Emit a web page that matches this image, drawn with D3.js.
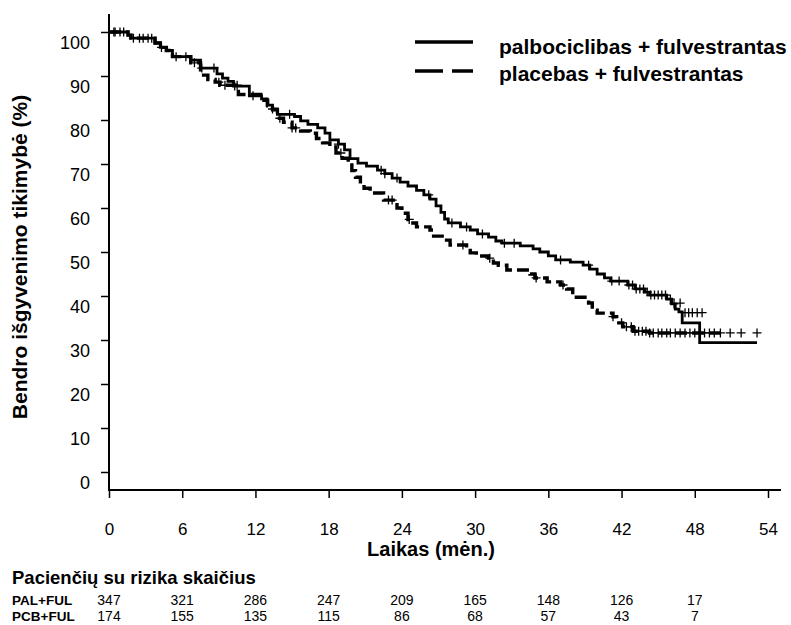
<html>
<meta charset="utf-8">
<style>
  body { margin: 0; background: #fff; }
  text { font-family: "Liberation Sans", Arial, sans-serif; fill: #000; }
</style>
<body>
<script src="https://d3js.org/d3.v7.min.js"></script>
<script>
// x ticks (months) and numbers at risk
var months = [0, 6, 12, 18, 24, 30, 36, 42, 48, 54];
var palRisk = [347, 321, 286, 247, 209, 165, 148, 126, 17];
var pcbRisk = [174, 155, 135, 115, 86, 68, 57, 43, 7];
var yTicks = [0, 10, 20, 30, 40, 50, 60, 70, 80, 90, 100];

// palbociclibas + fulvestrantas (solid): step times and survival %
var palT = [0, 1.56, 1.8, 3.77, 4.2, 4.7, 5.2, 6.7, 7.5, 8.85, 9.3, 9.75, 10.2, 11.5, 12.5, 12.95, 13.4, 13.8, 15.2, 15.7,
  16.3, 17.1, 17.7, 18.1, 18.8, 19.3, 19.75, 20.4, 21.1, 22.0, 22.6, 23.2, 23.85, 24.5, 25.2, 25.8, 26.3, 26.8, 27.2, 27.5,
  27.8, 28.8, 29.6, 30.2, 31.1, 31.7, 32.2, 33.7, 34.75, 35.3, 36.0, 36.6, 37.8, 38.85, 39.4, 40.0, 40.6, 41.1, 42.5, 43.1,
  43.9, 44.3, 45.7, 46.1, 46.4, 46.7, 46.97, 48.4, 53.1];
var palS = [100, 99.3, 98.6, 97.5, 96.5, 95.8, 94.4, 93.6, 91.8, 90.5, 89.5, 88.8, 87.7, 85.5, 84.8, 83.4, 82.5, 81.3, 80.8, 79.8,
  79.0, 78.2, 77.0, 75.5, 74.5, 73.2, 71.2, 70.2, 69.5, 68.6, 67.8, 66.8, 65.9, 65.0, 64.0, 63.0, 62.0, 60.5, 59.0, 57.5,
  56.6, 55.7, 55.0, 54.1, 53.4, 52.5, 52.0, 51.4, 50.7, 50.0, 49.1, 48.2, 47.7, 47.0, 46.1, 45.0, 44.1, 43.4, 42.5, 41.6,
  40.9, 40.2, 39.3, 38.2, 37.0, 36.4, 33.9, 29.4, 29.4];

// placebas + fulvestrantas (dashed)
var pcbT = [0, 1.56, 1.8, 3.77, 4.2, 4.7, 5.2, 6.7, 7.5, 8.1, 8.7, 9.1, 10.6, 12.7, 13.0, 13.4, 13.8, 14.3, 15.0, 15.7,
  16.5, 17.0, 17.5, 18.1, 18.6, 19.1, 19.6, 19.9, 20.2, 20.6, 20.9, 21.4, 22.5, 23.6, 24.0, 24.5, 24.9, 25.2, 26.3, 26.6,
  27.3, 27.95, 29.3, 29.6, 30.1, 31.1, 31.5, 31.9, 32.6, 34.5, 34.9, 35.9, 37.0, 37.5, 38.0, 39.3, 39.6, 40.0, 41.3, 41.6,
  42.1, 42.95, 44.3, 50.1];
var pcbS = [100, 99.3, 98.6, 97.5, 96.5, 95.8, 94.4, 93.0, 90.2, 89.2, 88.6, 87.9, 85.8, 84.5, 83.2, 82.3, 80.4, 79.5, 78.2, 77.5,
  77.0, 75.8, 74.8, 73.9, 72.5, 71.3, 70.4, 68.5, 67.0, 65.5, 64.5, 63.4, 61.8, 60.0, 58.8, 57.4, 56.6, 55.7, 55.0, 53.6,
  52.7, 51.6, 50.9, 49.8, 49.1, 48.6, 47.5, 47.0, 45.9, 45.0, 44.1, 43.2, 42.5, 41.6, 39.7, 38.4, 36.8, 36.1, 35.3, 33.9,
  33.0, 32.0, 31.6, 31.6];

// censored observations (times on the curve, plus a few off-step marks)
var palCens = [0.5, 0.9, 2.5, 3.2, 4.3, 6.3, 7.6, 8.6, 10.3, 11.8, 13.4, 14.8, 18.8, 22.3, 22.6, 23.6, 26.2, 28.1, 29.3, 30.6,
  32.4, 33.2, 37.0, 39.3, 41.2, 41.8, 42.6, 42.9, 43.2, 43.5, 43.8, 44.1, 44.4, 44.7, 45.0, 45.3, 45.6, 46.0, 46.3];
var palCensExtra = [[46.8, 38.4], [47.2, 36.2], [47.5, 36.2], [47.8, 36.2], [48.2, 36.2], [48.6, 36.2]];
var pcbCens = [0.4, 1.2, 2.0, 2.8, 3.5, 5.5, 7.0, 9.0, 9.5, 10.5, 14.0, 15.0, 15.3, 19.0, 22.9, 23.2, 24.6, 29.0, 31.2, 35.0,
  37.2, 41.3, 42.0, 42.4, 42.8, 43.1, 43.4, 43.7, 44.0, 44.3, 44.6, 45.0, 45.3, 45.7, 46.0, 46.4, 46.8, 47.2, 47.6, 48.0,
  48.4, 48.8, 49.2, 49.6, 50.1, 50.9, 51.8, 53.1];

var width = 791, height = 625;
var svg = d3.select("body").append("svg")
  .attr("width", width)
  .attr("height", height);

var x = d3.scaleLinear().domain([0, 54]).range([109, 768]);
var y = d3.scaleLinear().domain([0, 100]).range([472, 32]);

// axis lines
svg.append("line").attr("x1", 109).attr("x2", 109).attr("y1", 14).attr("y2", 491)
  .attr("stroke", "#000").attr("stroke-width", 2);
svg.append("line").attr("x1", 108).attr("x2", 781).attr("y1", 490).attr("y2", 490)
  .attr("stroke", "#000").attr("stroke-width", 2);

// y axis ticks
var yAxis = svg.append("g")
  .attr("transform", "translate(109,0)")
  .call(d3.axisLeft(y).tickValues(yTicks).tickSize(8).tickPadding(11));
yAxis.select(".domain").remove();
yAxis.selectAll("line").attr("stroke-width", 1.5);
yAxis.selectAll("text")
  .attr("dy", "0.32em").attr("y", 11)
  .style("font-size", "18px").style("font-family", "'Liberation Sans', Arial, sans-serif");

// x axis ticks
var xAxis = svg.append("g")
  .attr("transform", "translate(0,490)")
  .call(d3.axisBottom(x).tickValues(months).tickSize(8).tickPadding(25));
xAxis.select(".domain").remove();
xAxis.selectAll("line").attr("stroke-width", 1.5);
xAxis.selectAll("text")
  .style("font-size", "17px").style("font-family", "'Liberation Sans', Arial, sans-serif");

// axis titles
svg.append("text")
  .attr("transform", "translate(27,257) rotate(-90)")
  .attr("text-anchor", "middle")
  .style("font-size", "21px").style("font-weight", "bold")
  .text("Bendro išgyvenimo tikimybė (%)");

svg.append("text")
  .attr("x", 431).attr("y", 556)
  .attr("text-anchor", "middle")
  .style("font-size", "20px").style("font-weight", "bold")
  .text("Laikas (mėn.)");

// curves
var line = d3.line()
  .x(function(d) { return x(d[0]); })
  .y(function(d) { return y(d[1]); })
  .curve(d3.curveStepAfter);

var palData = palT.map(function(t, i) { return [t, palS[i]]; });
var pcbData = pcbT.map(function(t, i) { return [t, pcbS[i]]; });

svg.append("path").datum(pcbData)
  .attr("d", line).attr("fill", "none")
  .attr("stroke", "#000").attr("stroke-width", 3.4)
  .attr("stroke-dasharray", "12,5");

svg.append("path").datum(palData)
  .attr("d", line).attr("fill", "none")
  .attr("stroke", "#000").attr("stroke-width", 2.8);

function survAt(T, S, t) {
  var i = d3.bisectRight(T, t) - 1;
  return S[Math.max(i, 0)];
}

var censors = palCens.map(function(t) { return [t, survAt(palT, palS, t)]; })
  .concat(palCensExtra)
  .concat(pcbCens.map(function(t) { return [t, survAt(pcbT, pcbS, t)]; }));

svg.append("g").selectAll("path")
  .data(censors).enter()
  .append("path")
  .attr("transform", function(d) { return "translate(" + x(d[0]) + "," + y(d[1]) + ")"; })
  .attr("d", "M-4.5,0H4.5M0,-4.5V4.5")
  .attr("stroke", "#000").attr("stroke-width", 1.3).attr("fill", "none");

// legend
svg.append("line").attr("x1", 415).attr("x2", 473).attr("y1", 42).attr("y2", 42)
  .attr("stroke", "#000").attr("stroke-width", 3.5);
svg.append("line").attr("x1", 415).attr("x2", 473).attr("y1", 71).attr("y2", 71)
  .attr("stroke", "#000").attr("stroke-width", 3.5).attr("stroke-dasharray", "28,9,21");
svg.append("text").attr("x", 499).attr("y", 54)
  .style("font-size", "21px").style("font-weight", "bold")
  .text("palbociclibas + fulvestrantas");
svg.append("text").attr("x", 499).attr("y", 81)
  .style("font-size", "21px").style("font-weight", "bold")
  .text("placebas + fulvestrantas");

// numbers at risk
svg.append("text").attr("x", 12).attr("y", 584)
  .style("font-size", "18.5px").style("font-weight", "bold")
  .text("Pacienčių su rizika skaičius");
svg.append("text").attr("x", 12).attr("y", 605)
  .style("font-size", "13.5px").style("font-weight", "bold").text("PAL+FUL");
svg.append("text").attr("x", 12).attr("y", 621)
  .style("font-size", "13.5px").style("font-weight", "bold").text("PCB+FUL");

svg.append("g").selectAll("text")
  .data(palRisk).enter()
  .append("text")
  .attr("x", function(d, i) { return x(months[i]); })
  .attr("y", 605)
  .attr("text-anchor", "middle")
  .style("font-size", "14px")
  .text(function(d) { return d; });

svg.append("g").selectAll("text")
  .data(pcbRisk).enter()
  .append("text")
  .attr("x", function(d, i) { return x(months[i]); })
  .attr("y", 621)
  .attr("text-anchor", "middle")
  .style("font-size", "14px")
  .text(function(d) { return d; });
</script>
</body>
</html>
